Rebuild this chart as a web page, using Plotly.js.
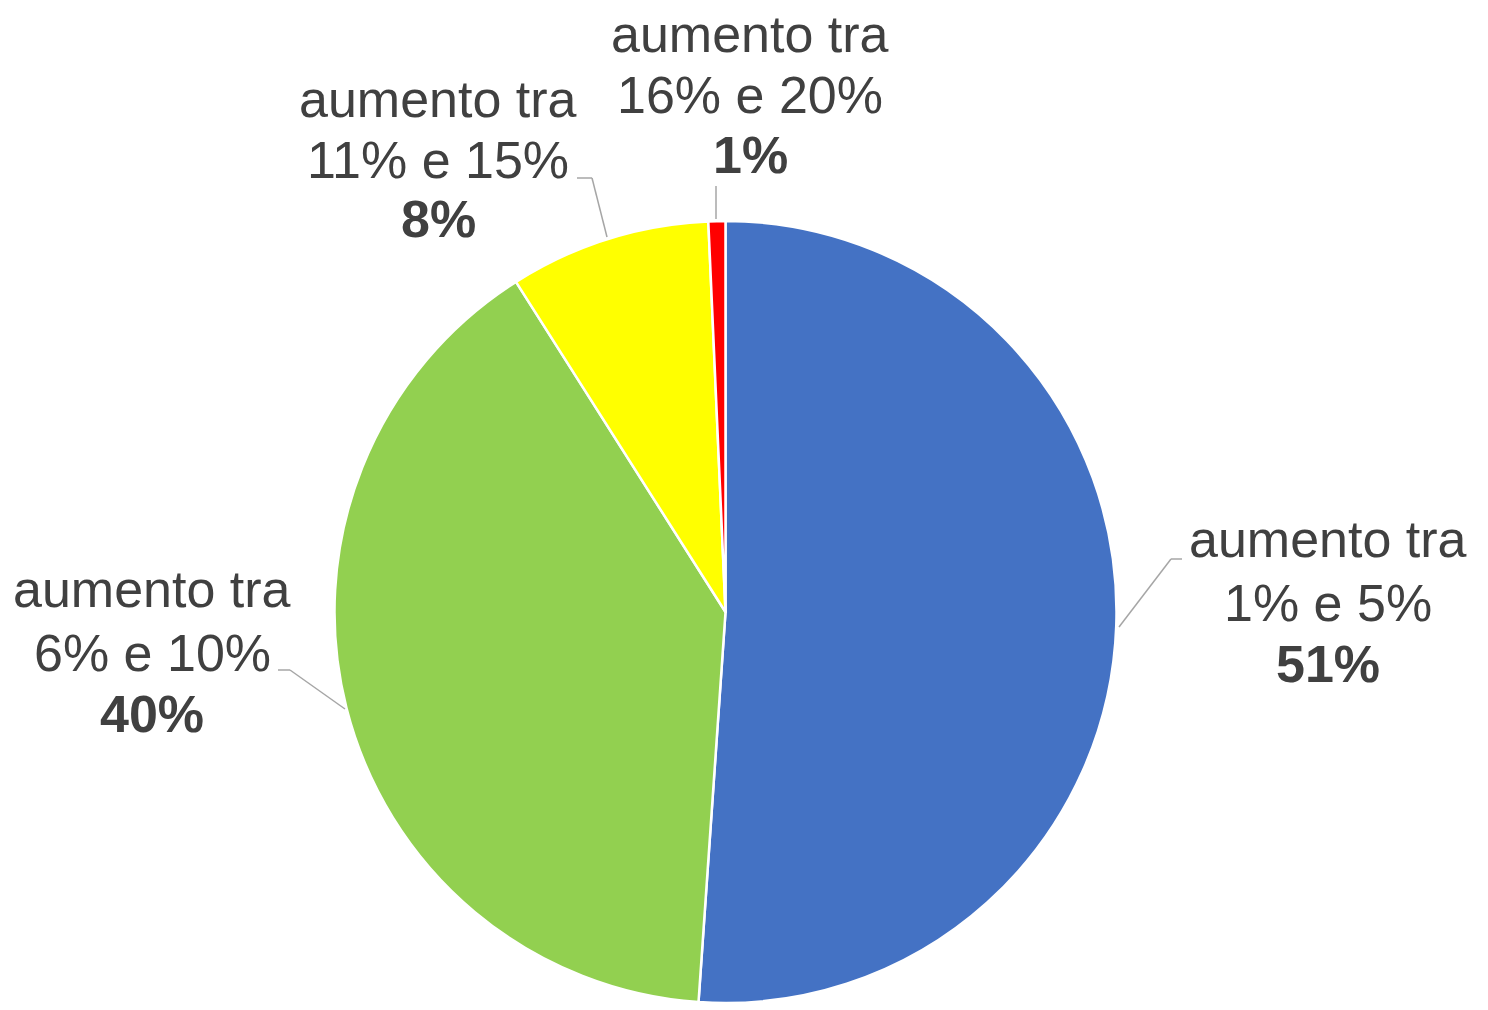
<!DOCTYPE html>
<html>
<head>
<meta charset="utf-8">
<script src="https://cdn.plot.ly/plotly-3.0.1.min.js"></script>
<style>html,body{margin:0;padding:0;background:#fff;}#chart{width:1488px;height:1010px;}</style>
</head>
<body>
<div id="chart"></div>
<script>
// Data
var categories = ["aumento tra 1% e 5%", "aumento tra 6% e 10%", "aumento tra 11% e 15%", "aumento tra 16% e 20%"];
var labelLine1 = ["aumento tra", "aumento tra", "aumento tra", "aumento tra"];
var labelLine2 = ["1% e 5%", "6% e 10%", "11% e 15%", "16% e 20%"];
var values = [51.1, 39.9, 8.3, 0.7];
var colors = ["#4472C4", "#92D050", "#FFFF00", "#FF0000"];

var W = 1488, H = 1010;
function px(x){ return x / W; }
function py(y){ return 1 - y / H; }

var total = values.reduce(function(a,b){return a+b;}, 0);
var pctText = values.map(function(v){ return Math.round(v / total * 100) + "%"; });

// label placement (pixel centres of each text line) and leader lines
var labelPos = [
  {x: 1328, y: [539, 603, 664]},
  {x: 152,  y: [589, 653, 714]},
  {x: 438,  y: [99, 160, 219]},
  {x: 750,  y: [34, 95, 155]}
];
var leaders = [
  [[1119, 627], [1171, 559], [1182, 559]],
  [[345, 709], [290, 670], [278, 670]],
  [[607, 237], [592, 178], [577, 178]],
  [[716, 219], [716, 186]]
];

var textColor = "#404040";
var font = "Liberation Sans, Arial, sans-serif";
var annotations = [];
labelPos.forEach(function(p, i){
  var lines = [labelLine1[i], labelLine2[i], "<b>" + pctText[i] + "</b>"];
  lines.forEach(function(t, j){
    annotations.push({
      xref: "paper", yref: "paper", x: px(p.x), y: py(p.y[j]),
      xanchor: "center", yanchor: "middle", showarrow: false,
      text: t, font: {family: font, size: 52, color: textColor}
    });
  });
});

var shapes = [];
leaders.forEach(function(pts){
  for (var k = 0; k < pts.length - 1; k++) {
    shapes.push({
      type: "line", xref: "paper", yref: "paper",
      x0: px(pts[k][0]), y0: py(pts[k][1]), x1: px(pts[k+1][0]), y1: py(pts[k+1][1]),
      line: {color: "#a6a6a6", width: 1.5}
    });
  }
});

var trace = {
  type: "pie",
  labels: categories,
  values: values,
  sort: false,
  direction: "clockwise",
  rotation: 0,
  marker: {colors: colors, line: {color: "#ffffff", width: 2.5}},
  textinfo: "none",
  hoverinfo: "label+percent",
  domain: {x: [334 / W, 1117 / W], y: [py(1003), py(221)]},
  showlegend: false
};

var layout = {
  width: W, height: H,
  margin: {l: 0, r: 0, t: 0, b: 0},
  paper_bgcolor: "#ffffff",
  plot_bgcolor: "#ffffff",
  showlegend: false,
  annotations: annotations,
  shapes: shapes
};

Plotly.newPlot("chart", [trace], layout, {displayModeBar: false, staticPlot: true});
</script>
</body>
</html>
